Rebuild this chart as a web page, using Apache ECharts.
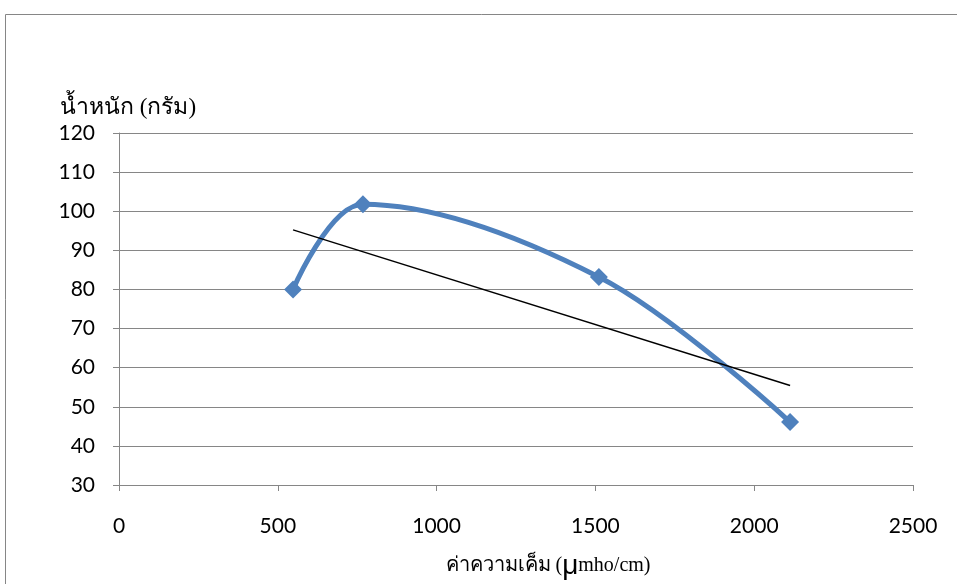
<!DOCTYPE html>
<html><head><meta charset="utf-8">
<script src="https://cdn.jsdelivr.net/npm/echarts@6/dist/echarts.min.js"></script>
<style>html,body{margin:0;padding:0;background:#fff}#c{width:957px;height:584px}</style>
</head><body><div id="c"></div>
<script>
const salinity = [548, 768, 1511, 2113];
const weight = [80, 101.8, 83.2, 46.1];
const xTicks = [0, 2500, 500];
const yTicks = [30, 120, 10];

// linear trend (least squares) from the data
const n = salinity.length;
const mx = salinity.reduce((a,b)=>a+b,0)/n, my = weight.reduce((a,b)=>a+b,0)/n;
let sxy=0, sxx=0;
for (let i=0;i<n;i++){ sxy+=(salinity[i]-mx)*(weight[i]-my); sxx+=(salinity[i]-mx)**2; }
const slope = sxy/sxx, icpt = my - slope*mx;
const xMin = Math.min(...salinity), xMax = Math.max(...salinity);
const trend = [[xMin, icpt+slope*xMin],[xMax, icpt+slope*xMax]];

const chart = echarts.init(document.getElementById('c'));
const lbl = {fontFamily:'Lato, "Open Sans", sans-serif', fontSize:21, color:'#000', formatter:v=>String(v)};
chart.setOption({
  animation:false,
  graphic:[{type:'rect', shape:{x:5.5,y:14.5,width:1000,height:1000}, style:{fill:'none', stroke:'#868686', lineWidth:1}}],
  grid:{left:119, right:44, top:133, bottom:99, containLabel:false, outerBoundsMode:'none'},
  xAxis:{type:'value', min:xTicks[0], max:xTicks[1], interval:xTicks[2],
    axisLine:{show:true, lineStyle:{color:'#868686', width:1}},
    axisTick:{show:true, length:6, lineStyle:{color:'#868686'}},
    splitLine:{show:false},
    axisLabel:Object.assign({margin:31}, lbl),
    name:'ค่าความเค็ม ({mu|μ}mho/cm)', nameLocation:'middle', nameGap:67,
    nameTextStyle:{fontFamily:'"Liberation Serif", serif', fontSize:20, color:'#000', padding:[0,0,0,64],
      rich:{mu:{fontFamily:'"Liberation Sans", sans-serif', fontSize:28, color:'#000'}}}
  },
  yAxis:{type:'value', min:yTicks[0], max:yTicks[1], interval:yTicks[2],
    axisLine:{show:true, lineStyle:{color:'#868686', width:1}},
    axisTick:{show:true, length:6, lineStyle:{color:'#868686'}},
    splitLine:{show:true, lineStyle:{color:'#868686', width:1}},
    axisLabel:Object.assign({margin:24}, lbl),
    name:'น้ำหนัก (กรัม)', nameLocation:'end', nameGap:14,
    nameTextStyle:{fontFamily:'"Liberation Serif", serif', fontSize:23, color:'#000', align:'center', padding:[0,0,0,18]}
  },
  series:[
    {type:'line', data:salinity.map((x,i)=>[x,weight[i]]), smooth:0.35,
      lineStyle:{color:'#4F81BD', width:5}, itemStyle:{color:'#4F81BD'},
      symbol:'diamond', symbolSize:18, z:3},
    {type:'line', data:trend, symbol:'none', lineStyle:{color:'#000', width:1.5}, z:4}
  ]
});
</script></body></html>
